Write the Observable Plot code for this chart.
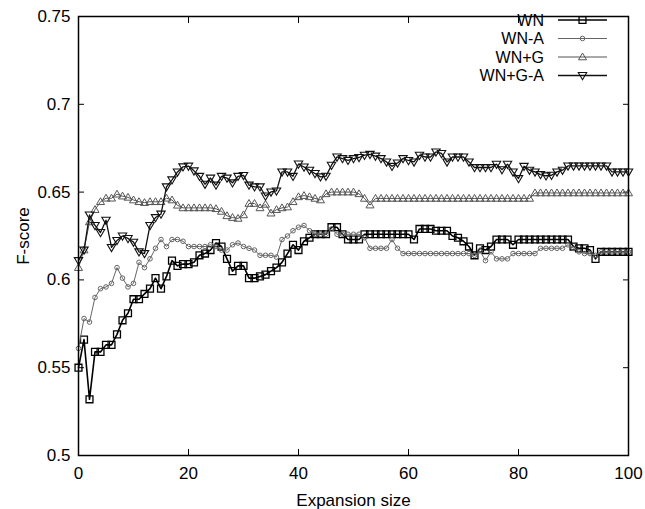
<!DOCTYPE html>
<html>
<head>
<meta charset="utf-8">
<script src="https://cdn.jsdelivr.net/npm/d3@7"></script>
<script src="https://cdn.jsdelivr.net/npm/@observablehq/plot@0.6"></script>
<style>
  html, body { margin: 0; padding: 0; background: white; }
</style>
</head>
<body>
<div id="chart"></div>
<script>
// ---- data ----
const expansionSize = d3.range(0, 101);
const xTicks = [0, 20, 40, 60, 80, 100];
const xTickLabels = ["0", "20", "40", "60", "80", "100"];
const yTicks = [0.5, 0.55, 0.6, 0.65, 0.7, 0.75];
const yTickLabels = ["0.5", "0.55", "0.6", "0.65", "0.7", "0.75"];
const seriesNames = ["WN", "WN-A", "WN+G", "WN+G-A"];

const wn = [
  0.550,0.566,0.532,0.559,0.559,0.563,0.563,0.569,0.577,0.581,
  0.589,0.589,0.592,0.595,0.601,0.595,0.602,0.611,0.608,0.609,
  0.609,0.610,0.614,0.615,0.617,0.621,0.619,0.612,0.605,0.608,
  0.608,0.601,0.601,0.602,0.603,0.605,0.607,0.610,0.615,0.620,
  0.617,0.622,0.624,0.626,0.626,0.626,0.630,0.630,0.626,0.623,
  0.623,0.623,0.626,0.626,0.626,0.626,0.626,0.626,0.626,0.626,
  0.626,0.623,0.629,0.629,0.629,0.628,0.628,0.628,0.625,0.624,
  0.622,0.619,0.614,0.618,0.617,0.619,0.623,0.623,0.623,0.620,
  0.623,0.623,0.623,0.623,0.623,0.623,0.623,0.623,0.623,0.623,
  0.619,0.618,0.618,0.617,0.612,0.616,0.616,0.616,0.616,0.616,0.616
];
const wnA = [
  0.561,0.578,0.576,0.590,0.595,0.596,0.598,0.607,0.601,0.596,
  0.598,0.610,0.607,0.612,0.618,0.623,0.619,0.623,0.623,0.622,
  0.619,0.619,0.619,0.619,0.620,0.619,0.617,0.617,0.620,0.621,
  0.619,0.618,0.617,0.614,0.614,0.614,0.613,0.623,0.625,0.628,
  0.630,0.631,0.628,0.626,0.626,0.626,0.629,0.626,0.626,0.626,
  0.626,0.626,0.624,0.618,0.618,0.618,0.618,0.623,0.618,0.615,
  0.615,0.615,0.615,0.615,0.615,0.615,0.615,0.615,0.615,0.615,
  0.615,0.615,0.614,0.6165,0.611,0.616,0.612,0.612,0.612,0.615,
  0.615,0.615,0.615,0.615,0.618,0.618,0.618,0.618,0.618,0.620,
  0.618,0.616,0.615,0.615,0.614,0.616,0.616,0.616,0.616,0.616,0.616
];
const wnG = [
  0.607,0.617,0.633,0.640,0.6445,0.6465,0.6465,0.6488,0.6477,0.647,
  0.6455,0.6445,0.644,0.6445,0.6445,0.6445,0.6465,0.6455,0.6425,0.641,
  0.641,0.641,0.641,0.641,0.641,0.6405,0.639,0.6365,0.6355,0.635,
  0.637,0.6435,0.6435,0.641,0.643,0.638,0.640,0.641,0.6415,0.6445,
  0.6473,0.648,0.6473,0.6464,0.6455,0.649,0.650,0.650,0.650,0.650,
  0.650,0.649,0.6464,0.6426,0.6464,0.6464,0.6464,0.6464,0.6464,0.6464,
  0.6464,0.6464,0.6464,0.6464,0.6464,0.6464,0.6464,0.6464,0.6464,0.6464,
  0.6464,0.6464,0.6464,0.6464,0.6464,0.6464,0.6464,0.6464,0.6464,0.6464,
  0.6464,0.6464,0.6464,0.6495,0.6495,0.6495,0.6495,0.6495,0.6495,0.6495,
  0.6495,0.6495,0.6495,0.6495,0.6495,0.6495,0.6495,0.6495,0.6495,0.6495,0.6495
];
const wnGA = [
  0.611,0.617,0.637,0.631,0.627,0.634,0.6185,0.6225,0.625,0.6236,
  0.6215,0.616,0.615,0.631,0.6355,0.6375,0.653,0.657,0.6615,0.6644,
  0.6648,0.6621,0.659,0.6545,0.658,0.654,0.659,0.658,0.6553,0.659,
  0.6595,0.654,0.653,0.653,0.6478,0.6501,0.6507,0.6615,0.6615,0.659,
  0.666,0.6643,0.6625,0.6606,0.6587,0.6591,0.6653,0.670,0.6691,0.6681,
  0.6691,0.6697,0.671,0.6715,0.6705,0.6691,0.6672,0.6647,0.6666,0.6691,
  0.668,0.6672,0.671,0.670,0.670,0.6729,0.672,0.6672,0.670,0.670,
  0.670,0.6672,0.664,0.664,0.664,0.664,0.6659,0.6628,0.6659,0.6615,
  0.6577,0.6647,0.6625,0.6615,0.660,0.6593,0.6596,0.6615,0.6625,0.6649,
  0.6649,0.6649,0.6649,0.6649,0.6649,0.6649,0.6649,0.6615,0.6615,0.6615,0.6615
];

// ---- symbols & styles ----
const triUp = {draw(ctx, size) { const r = Math.sqrt(size / Math.PI); ctx.moveTo(0, -r); ctx.lineTo(r, r * 0.7); ctx.lineTo(-r, r * 0.7); ctx.closePath(); }};
const triDown = {draw(ctx, size) { const r = Math.sqrt(size / Math.PI); ctx.moveTo(0, r); ctx.lineTo(r, -r * 0.7); ctx.lineTo(-r, -r * 0.7); ctx.closePath(); }};

const styles = [
  {values: wn,   symbol: "square", r: 3.9, stroke: "#000", lineWidth: 1.6, dotWidth: 1.3},
  {values: wnA,  symbol: "circle", r: 2.3, stroke: "#666", lineWidth: 1.0, dotWidth: 1.0},
  {values: wnG,  symbol: triUp,    r: 4.0, stroke: "#555", lineWidth: 1.0, dotWidth: 1.0},
  {values: wnGA, symbol: triDown,  r: 4.2, stroke: "#111", lineWidth: 1.3, dotWidth: 1.1}
];

const seriesData = seriesNames.map((name, i) => ({
  name,
  ...styles[i],
  rows: expansionSize.map((x, j) => ({x, y: styles[i].values[j]}))
}));

const xLabelMap = new Map(xTicks.map((t, i) => [t, xTickLabels[i]]));
const yLabelMap = new Map(yTicks.map((t, i) => [t, yTickLabels[i]]));

const marks = [
  Plot.axisX({ticks: xTicks, tickSize: -6, tickPadding: 17, tickFormat: d => xLabelMap.get(d),
    label: "Expansion size", labelAnchor: "center", labelArrow: "none", labelOffset: 50}),
  Plot.axisX({anchor: "top", ticks: xTicks, tickSize: -6, tickFormat: () => "", label: null}),
  Plot.axisY({ticks: yTicks, tickSize: -6, tickPadding: 14, tickFormat: d => yLabelMap.get(d),
    label: "F-score", labelAnchor: "center", labelArrow: "none", labelOffset: 62}),
  Plot.axisY({anchor: "right", ticks: yTicks, tickSize: -6, tickFormat: () => "", label: null})
];
for (const s of seriesData) {
  marks.push(Plot.line(s.rows, {x: "x", y: "y", stroke: s.stroke, strokeWidth: s.lineWidth}));
  marks.push(Plot.dot(s.rows, {x: "x", y: "y", symbol: () => s.symbol, r: s.r, stroke: s.stroke, strokeWidth: s.dotWidth, fill: "none"}));
}
marks.push(Plot.frame({stroke: "black", strokeWidth: 1.5}));

const chart = Plot.plot({
  width: 645,
  height: 509,
  marginLeft: 78,
  marginRight: 17,
  marginTop: 16,
  marginBottom: 54,
  x: {type: "linear", domain: [0, 100]},
  y: {type: "linear", domain: [0.5, 0.75]},
  style: {fontFamily: "'Liberation Sans', Arial, sans-serif", fontSize: "17px", background: "white", color: "black"},
  marks
});
document.getElementById("chart").appendChild(chart);

// ---- legend (inside top-right of frame) ----
const svg = d3.select(chart);
const lg = svg.append("g").attr("class", "legend");
const rowY = [20, 38.5, 57, 75.5];
seriesData.forEach((s, i) => {
  const g = lg.append("g").attr("transform", `translate(0,${rowY[i]})`);
  g.append("text").attr("x", 544).attr("y", 0).attr("dy", "0.35em")
    .attr("text-anchor", "end").attr("fill", "black")
    .style("font-family", "'Liberation Sans', Arial, sans-serif").style("font-size", "16px")
    .text(s.name);
  g.append("line").attr("x1", 558).attr("x2", 607).attr("y1", 0).attr("y2", 0)
    .attr("stroke", s.stroke).attr("stroke-width", s.lineWidth);
  g.append("path").attr("transform", "translate(582.5,0)")
    .attr("d", d3.symbol(s.symbol === "square" ? d3.symbolSquare : s.symbol === "circle" ? d3.symbolCircle : s.symbol, Math.PI * s.r * s.r)())
    .attr("fill", "none").attr("stroke", s.stroke).attr("stroke-width", s.dotWidth);
});
</script>
</body>
</html>
